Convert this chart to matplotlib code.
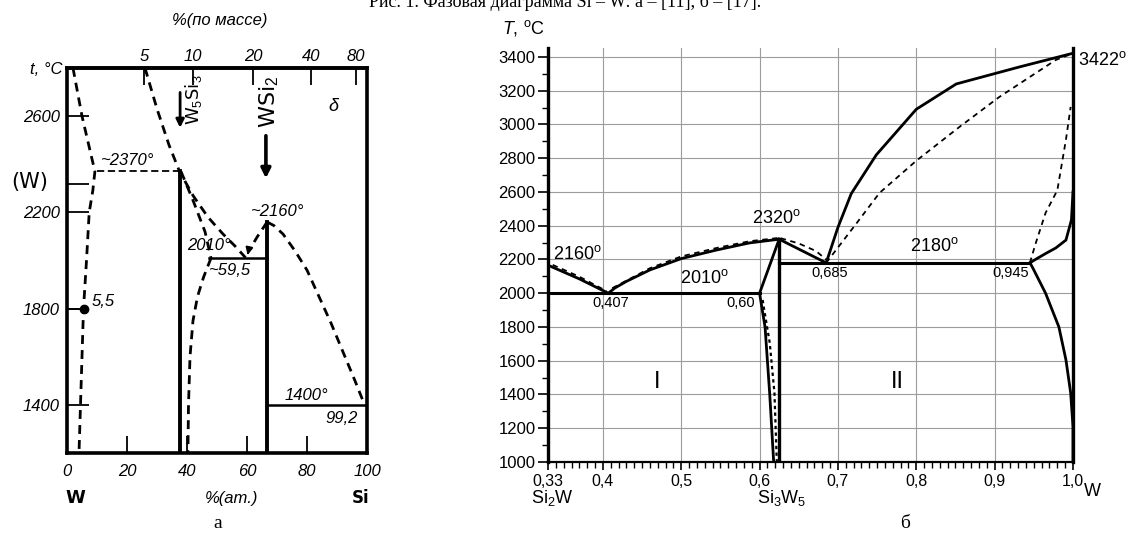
import numpy as np
import matplotlib
matplotlib.use('Agg')
import matplotlib.pyplot as plt
from matplotlib.ticker import MultipleLocator

plt.rcParams['mathtext.fontset'] = 'custom'
plt.rcParams['mathtext.rm'] = 'Liberation Sans'
plt.rcParams['mathtext.it'] = 'Liberation Sans:italic'
plt.rcParams['mathtext.bf'] = 'Liberation Sans:bold'

# ---------------- data: panel a (at.% Si, deg C) ----------------
a_x_ticks = [0, 20, 40, 60, 80, 100]
a_y_ticks = [1400, 1800, 2200, 2320, 2600]
a_y_labels = ['1400', '1800', '2200', '', '2600']
a_top_wt_ticks = [5, 10, 20, 40, 80]

a_wsol_x = [2.0, 5.0, 9.3, 8.6, 7.4, 6.5, 5.5, 5.0, 4.5, 4.0]
a_wsol_t = [2800, 2600, 2370, 2290, 2200, 2000, 1800, 1600, 1400, 1200]
a_eut2370_x = [10.0, 37.5]
a_eut2370_t = [2370, 2370]
a_liq1_x = [26.0, 30.0, 34.0, 37.5, 42.0, 47.0, 52.0, 56.0, 59.5]
a_liq1_t = [2800, 2630, 2480, 2370, 2270, 2180, 2110, 2060, 2012]
a_w5si3_hi_x = [38.0, 42.0, 46.0, 48.0]
a_w5si3_hi_t = [2370, 2250, 2120, 2010]
a_w5si3_lo_x = [48.0, 45.5, 43.5, 42.0, 41.0, 40.5, 40.3]
a_w5si3_lo_t = [2010, 1930, 1850, 1750, 1600, 1400, 1200]
a_w5si3_x = [37.5, 37.5]
a_w5si3_t = [2370, 1200]
a_wsi2_x = [66.7, 66.7]
a_wsi2_t = [2160, 1200]
a_eut2010_x = [47.5, 66.7]
a_eut2010_t = [2010, 2010]
a_liq2l_x = [66.7, 63.5, 60.6]
a_liq2l_t = [2160, 2100, 2040]
a_liq2r_x = [66.7, 69.0, 72.0, 76.0, 80.0, 84.0, 88.0, 92.0, 96.0, 99.2]
a_liq2r_t = [2160, 2145, 2110, 2040, 1960, 1850, 1740, 1620, 1500, 1400]
a_eut1400_x = [66.7, 100.0]
a_eut1400_t = [1400, 1400]
a_pt55 = (5.5, 1800)

# ---------------- data: panel b (mole fraction W, deg C) ----------------
b_x_ticks = [0.33, 0.4, 0.5, 0.6, 0.7, 0.8, 0.9, 1.0]
b_x_labels = ['0,33', '0,4', '0,5', '0,6', '0,7', '0,8', '0,9', '1,0']
b_y_ticks = [1000, 1200, 1400, 1600, 1800, 2000, 2200, 2400, 2600, 2800, 3000, 3200, 3400]

b_liqA_x = [0.333, 0.37, 0.407]
b_liqA_t = [2160, 2085, 2000]
b_liqA_d_x = [0.336, 0.37, 0.405]
b_liqA_d_t = [2168, 2098, 2012]
b_liqB_x = [0.407, 0.415, 0.43, 0.46, 0.50, 0.545, 0.587, 0.625]
b_liqB_t = [2000, 2030, 2070, 2138, 2205, 2256, 2298, 2320]
b_liqB_d_x = [0.412, 0.425, 0.46, 0.50, 0.545, 0.587, 0.625]
b_liqB_d_t = [2030, 2062, 2148, 2218, 2268, 2308, 2328]
b_liqC_x = [0.625, 0.685]
b_liqC_t = [2320, 2180]
b_liqC_d_x = [0.627, 0.65, 0.672, 0.687]
b_liqC_d_t = [2326, 2295, 2250, 2192]
b_eut2000_x = [0.333, 0.60]
b_eut2000_t = [2000, 2000]
b_eut2180_x = [0.625, 0.945]
b_eut2180_t = [2180, 2180]
b_si3w5_up_x = [0.60, 0.625]
b_si3w5_up_t = [2000, 2320]
b_si3w5_lo_x = [0.60, 0.607, 0.613, 0.618]
b_si3w5_lo_t = [2000, 1800, 1400, 1000]
b_si3w5_lo_d_x = [0.604, 0.606, 0.613, 0.619, 0.622]
b_si3w5_lo_d_t = [1960, 1900, 1705, 1409, 1000]
b_si3w5_x = [0.625, 0.625]
b_si3w5_t = [2320, 1000]
b_liqW_x = [0.685, 0.70, 0.717, 0.749, 0.80, 0.851, 0.931, 1.0]
b_liqW_t = [2180, 2390, 2590, 2820, 3090, 3240, 3340, 3422]
b_solW_d_x = [0.685, 0.724, 0.753, 0.80, 0.855, 0.906, 0.978, 1.0]
b_solW_d_t = [2180, 2416, 2594, 2785, 2985, 3163, 3382, 3422]
b_wsol_up_x = [0.945, 0.952, 0.965, 0.978, 0.991, 0.998, 1.0]
b_wsol_up_t = [2180, 2200, 2235, 2268, 2315, 2434, 2600]
b_wsol_up_d_x = [0.945, 0.952, 0.965, 0.98, 0.991, 0.997]
b_wsol_up_d_t = [2180, 2290, 2476, 2610, 2910, 3104]
b_wsol_lo_x = [0.945, 0.948, 0.965, 0.982, 0.991, 0.997, 1.0, 1.0]
b_wsol_lo_t = [2180, 2156, 2000, 1800, 1605, 1410, 1210, 1000]

# ---------------- figure ----------------
W, H = 1129, 538
fig = plt.figure(figsize=(W / 100, H / 100), dpi=100)


def fx(px):
    return px / W


def fy(py):
    return 1 - py / H


IT = dict(family='Liberation Sans', style='italic')

# ===== panel a =====
axL = fig.add_axes([fx(67), fy(453), 300 / W, 385 / H])
axL.set_xlim(0, 100)
axL.set_ylim(1200, 2800)
for s in axL.spines.values():
    s.set_linewidth(2.6)
axL.set_xticks(a_x_ticks)
axL.set_xticklabels([str(v) for v in a_x_ticks], fontsize=12, **IT)
axL.set_yticks(a_y_ticks)
axL.set_yticklabels(a_y_labels, fontsize=12, **IT)
axL.tick_params(axis='x', direction='in', length=12, width=1.3, pad=8)
axL.tick_params(axis='y', direction='in', length=16, width=1.3, pad=5)

sec = axL.secondary_xaxis(
    'top',
    functions=(lambda a: 100 * (np.clip(np.asarray(a, float), 0, 100) * 28.09) /
               (np.clip(np.asarray(a, float), 0, 100) * 28.09 +
                (100 - np.clip(np.asarray(a, float), 0, 100)) * 183.84),
               lambda w: 100 * (np.clip(np.asarray(w, float), 0, 100) / 28.09) /
               (np.clip(np.asarray(w, float), 0, 100) / 28.09 +
                (100 - np.clip(np.asarray(w, float), 0, 100)) / 183.84)))
sec.set_xticks(a_top_wt_ticks)
sec.set_xticklabels([str(v) for v in a_top_wt_ticks], fontsize=12, **IT)
sec.tick_params(direction='in', length=12, width=1.3, pad=3)
sec.spines['top'].set_linewidth(2.6)

dash_kw = dict(color='k', lw=2.0, dashes=(3.2, 2.2))
axL.plot(a_wsol_x, a_wsol_t, **dash_kw)
axL.plot(a_eut2370_x, a_eut2370_t, color='k', lw=1.3, dashes=(4, 2))
axL.plot(a_liq1_x, a_liq1_t, **dash_kw)
axL.plot(a_w5si3_hi_x, a_w5si3_hi_t, **dash_kw)
axL.plot(a_w5si3_lo_x, a_w5si3_lo_t, **dash_kw)
axL.plot(a_liq2l_x, a_liq2l_t, **dash_kw)
axL.plot(a_liq2r_x, a_liq2r_t, **dash_kw)
axL.plot(a_w5si3_x, a_w5si3_t, color='k', lw=2.8)
axL.plot(a_wsi2_x, a_wsi2_t, color='k', lw=2.8)
axL.plot(a_eut2010_x, a_eut2010_t, color='k', lw=1.8)
axL.plot(a_eut1400_x, a_eut1400_t, color='k', lw=1.8)
axL.plot([0, a_pt55[0]], [a_pt55[1], a_pt55[1]], color='k', lw=1.3)
axL.plot([a_pt55[0]], [a_pt55[1]], 'o', color='k', ms=6)
axL.annotate('', xy=(60.0, 2012), xytext=(60.6, 2045),
             arrowprops=dict(arrowstyle='-|>', color='k', lw=1.5, mutation_scale=10))
axL.annotate('', xy=(37.7, 2540), xytext=(37.7, 2710),
             arrowprops=dict(arrowstyle='-|>', color='k', lw=2.0, mutation_scale=12))
axL.annotate('', xy=(66.3, 2330), xytext=(66.3, 2530),
             arrowprops=dict(arrowstyle='-|>', color='k', lw=2.6, mutation_scale=14))

axL.text(11, 2385, '~2370°', fontsize=12, ha='left', va='bottom', **IT)
axL.text(70, 2205, '~2160°', fontsize=12, ha='center', va='center', **IT)
axL.text(40, 2063, '2010°', fontsize=12, ha='left', va='center', **IT)
axL.text(47, 1958, '~59,5', fontsize=12, ha='left', va='center', **IT)
axL.text(8.3, 1829, '5,5', fontsize=12, ha='left', va='center', **IT)
axL.text(72.5, 1437, '1400°', fontsize=12, ha='left', va='center', **IT)
axL.text(86, 1342, '99,2', fontsize=12, ha='left', va='center', **IT)
axL.text(88.7, 2642, 'δ', fontsize=13, ha='center', va='center', **IT)
axL.text(42.2, 2670, r'W$_5$Si$_3$', fontsize=13, rotation=90, ha='center', va='center')
axL.text(67.3, 2660, r'WSi$_2$', fontsize=16, rotation=90, ha='center', va='center')

fig.text(fx(62), fy(70), 't, °C', fontsize=12, ha='right', va='center', **IT)
fig.text(fx(30), fy(182), '(W)', fontsize=15, ha='center', va='center', family='DejaVu Sans')
fig.text(fx(220), fy(20), '%(по массе)', fontsize=12, ha='center', va='center', **IT)
fig.text(fx(75), fy(498), 'W', fontsize=13, ha='center', va='center', family='DejaVu Sans', weight='bold')
fig.text(fx(232), fy(498), '%(ат.)', fontsize=12, ha='center', va='center', **IT)
fig.text(fx(361), fy(498), 'Si', fontsize=12, ha='center', va='center', family='DejaVu Sans', weight='bold')
fig.text(fx(218), fy(523), 'а', fontsize=14, ha='center', va='center', family='Liberation Serif')

# ===== panel b =====
axR = fig.add_axes([fx(548), fy(462), 525 / W, 414 / H])
axR.set_xlim(0.33, 1.0)
axR.set_ylim(1000, 3453)
axR.spines['top'].set_visible(False)
axR.spines['left'].set_linewidth(2.4)
axR.spines['right'].set_linewidth(2.4)
axR.spines['bottom'].set_linewidth(1.6)
axR.set_xticks(b_x_ticks)
axR.set_xticklabels(b_x_labels, fontsize=11.5, family='Liberation Sans')
axR.xaxis.set_minor_locator(MultipleLocator(0.01))
axR.set_yticks(b_y_ticks)
axR.set_yticklabels([str(v) for v in b_y_ticks], fontsize=12, family='Liberation Sans')
axR.yaxis.set_minor_locator(MultipleLocator(100))
axR.tick_params(axis='x', which='major', direction='out', length=6, width=1.2, pad=3)
axR.tick_params(axis='x', which='minor', direction='out', length=4, width=1.0)
axR.tick_params(axis='y', which='major', direction='out', length=7, width=1.2, pad=2)
axR.tick_params(axis='y', which='minor', direction='out', length=4, width=1.0)
axR.tick_params(axis='both', which='both', right=False, top=False)
axR.grid(True, which='major', color='#9c9c9c', lw=0.8)
axR.set_axisbelow(True)

sol = dict(color='k', lw=2.0, solid_joinstyle='round')
dsh = dict(color='k', lw=1.3, dashes=(3, 2.5))
axR.plot(b_liqA_x, b_liqA_t, **sol)
axR.plot(b_liqA_d_x, b_liqA_d_t, **dsh)
axR.plot(b_liqB_x, b_liqB_t, **sol)
axR.plot(b_liqB_d_x, b_liqB_d_t, **dsh)
axR.plot(b_liqC_x, b_liqC_t, **sol)
axR.plot(b_liqC_d_x, b_liqC_d_t, **dsh)
axR.plot(b_eut2000_x, b_eut2000_t, color='k', lw=2.2)
axR.plot(b_eut2180_x, b_eut2180_t, color='k', lw=2.2)
axR.plot(b_si3w5_up_x, b_si3w5_up_t, **sol)
axR.plot(b_si3w5_lo_x, b_si3w5_lo_t, **sol)
axR.plot(b_si3w5_lo_d_x, b_si3w5_lo_d_t, color='k', lw=1.6, dashes=(1.5, 1.5))
axR.plot(b_si3w5_x, b_si3w5_t, color='k', lw=2.4)
axR.plot(b_liqW_x, b_liqW_t, **sol)
axR.plot(b_solW_d_x, b_solW_d_t, **dsh)
axR.plot(b_wsol_up_x, b_wsol_up_t, **sol)
axR.plot(b_wsol_up_d_x, b_wsol_up_d_t, **dsh)
axR.plot(b_wsol_lo_x, b_wsol_lo_t, **sol)

deg = r'$^{\mathrm{o}}$'
RK = dict(family='Liberation Sans')
axR.text(0.336, 2235, '2160' + deg, fontsize=13, ha='left', va='center', **RK)
axR.text(0.41, 1942, '0,407', fontsize=10.5, ha='center', va='center', **RK)
axR.text(0.529, 2090, '2010' + deg, fontsize=13, ha='center', va='center', **RK)
axR.text(0.594, 1942, '0,60', fontsize=10.5, ha='right', va='center', **RK)
axR.text(0.622, 2445, '2320' + deg, fontsize=13, ha='center', va='center', **RK)
axR.text(0.69, 2120, '0,685', fontsize=10.5, ha='center', va='center', **RK)
axR.text(0.823, 2277, '2180' + deg, fontsize=13, ha='center', va='center', **RK)
axR.text(0.92, 2120, '0,945', fontsize=10.5, ha='center', va='center', **RK)
axR.text(1.006, 3382, '3422' + deg, fontsize=13, ha='left', va='center', clip_on=False, **RK)
axR.text(0.469, 1474, 'I', fontsize=17, ha='center', va='center', **RK)
axR.text(0.776, 1474, 'II', fontsize=17, ha='center', va='center', **RK)

fig.text(fx(523), fy(28), r'$T$, ' + deg + 'C', fontsize=13, ha='center', va='center', **RK)
fig.text(fx(552), fy(498), r'Si$_2$W', fontsize=13, ha='center', va='center', **RK)
fig.text(fx(782), fy(498), r'Si$_3$W$_5$', fontsize=13, ha='center', va='center', **RK)
fig.text(fx(1092), fy(492), 'W', fontsize=13, ha='center', va='center', **RK)
fig.text(fx(905), fy(523), 'б', fontsize=14, ha='center', va='center', family='Liberation Serif')

fig.text(fx(565), fy(7), 'Рис. 1. Фазовая диаграмма Si – W: а – [11], б – [17].',
         fontsize=13, ha='center', va='baseline', family='Liberation Serif')

fig.savefig('out.png', dpi=100)
